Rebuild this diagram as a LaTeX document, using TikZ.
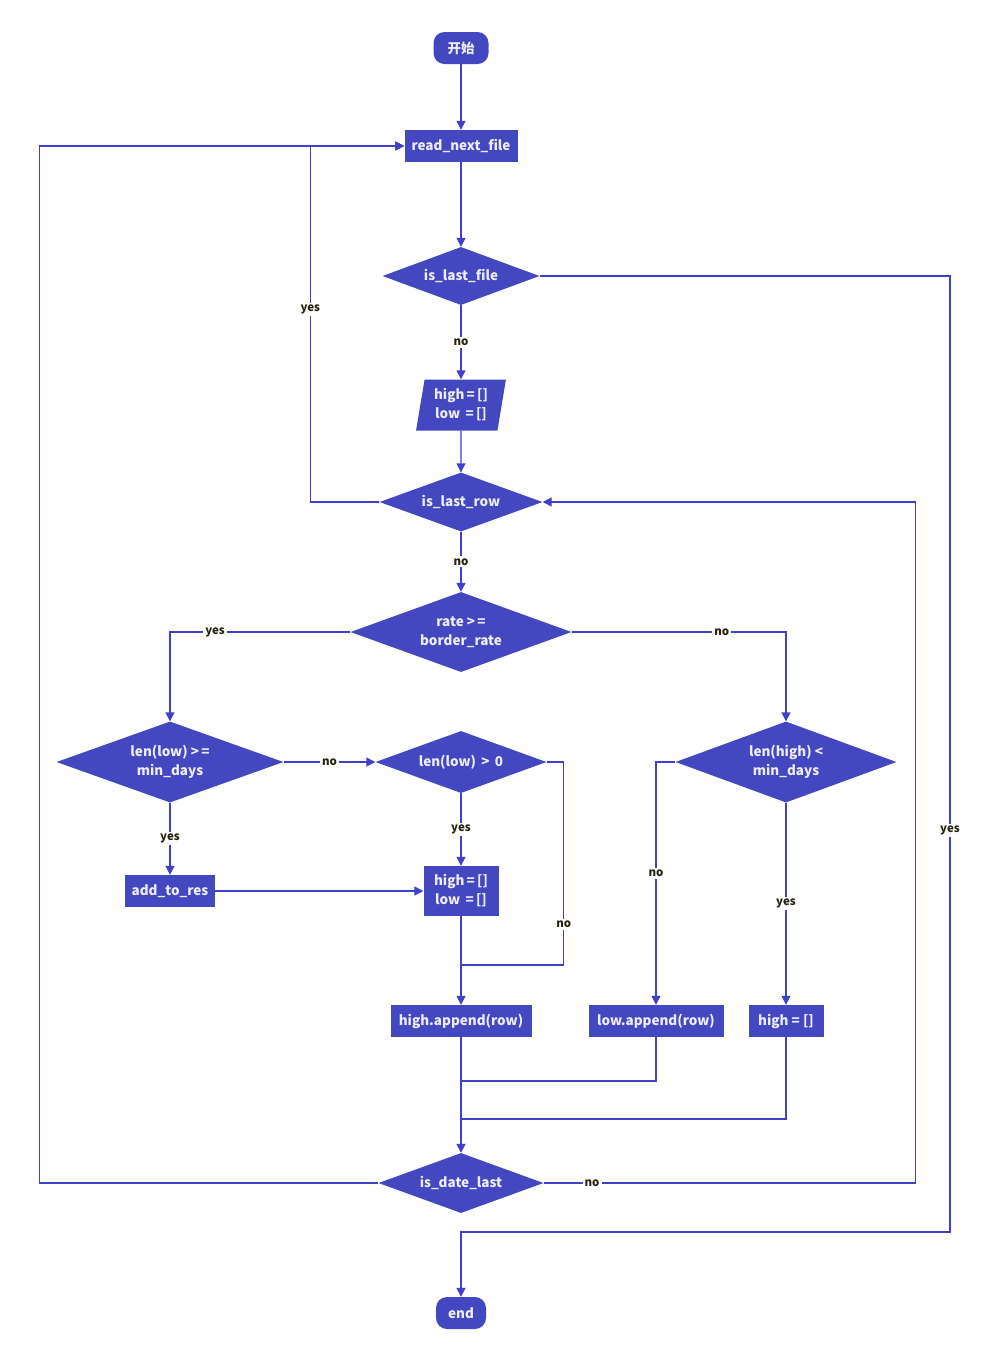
\documentclass[tikz,border=0pt]{standalone}
\usepackage{fontspec}
\setmainfont{Noto Sans CJK SC}
\usetikzlibrary{shapes.geometric, arrows.meta, positioning}
\definecolor{flowfill}{RGB}{68,72,192}
\definecolor{flowline}{RGB}{64,64,200}
\definecolor{flowtext}{RGB}{236,236,252}
\definecolor{lbltext}{RGB}{40,34,16}
\tikzset{
  base/.style={fill=flowfill, text=flowtext, font=\fontsize{13.5}{19}\selectfont\bfseries, inner sep=0pt, align=center},
  proc/.style={base, rectangle, minimum height=32pt},
  term/.style={base, rectangle, rounded corners=11pt, minimum height=32pt},
  decide/.style={base, diamond, aspect=2.7},
  io/.style={base, trapezium, trapezium left angle=79, trapezium right angle=101, trapezium stretches=true},
  arr/.style={flowline, line width=1.4pt, -{Triangle[length=9pt,width=9pt]}},
  conn/.style={flowline, line width=1.4pt},
  lbl/.style={fill=white, text=lbltext, font=\fontsize{11.5}{13}\selectfont\bfseries, inner sep=2pt},
}
\begin{document}
\begin{tikzpicture}[x=1pt, y=-1pt]
  \fill[white] (0,0) rectangle (1000,1361);
  \useasboundingbox (0,0) rectangle (1000,1361);
  \node[term, minimum width=55pt] (start) at (461,48) {开始};
  \node[proc, minimum width=113pt] (readf) at (461,146) {read\_next\_file};
  \node[decide, minimum width=157pt, minimum height=58pt] (lastfile) at (461,276) {is\_last\_file};
  \node[io, minimum width=90pt, minimum height=51pt] (init1) at (461,405) {high\,=\,[]\\low \,=\,[]};
  \node[decide, minimum width=163pt, minimum height=59pt] (lastrow) at (461,502) {is\_last\_row};
  \node[decide, minimum width=221pt, minimum height=80pt] (rate) at (461,632) {rate >\,=\\border\_rate};
  \node[decide, minimum width=227pt, minimum height=81pt] (lenlow) at (170,762) {len(low) >\,=\\min\_days};
  \node[decide, minimum width=171pt, minimum height=62pt] (lowpos) at (461,762) {len(low) \,>\, 0};
  \node[decide, minimum width=221pt, minimum height=81pt] (lenhigh) at (786,762) {len(high) <\\min\_days};
  \node[proc, minimum width=90pt] (addres) at (170,891) {add\_to\_res};
  \node[proc, minimum width=75pt, minimum height=50pt] (init2) at (461,891) {high\,=\,[]\\low \,=\,[]};
  \node[proc, minimum width=141pt] (highapp) at (461,1021) {high.append(row)};
  \node[proc, minimum width=135pt] (lowapp) at (656,1021) {low.append(row)};
  \node[proc, minimum width=75pt] (highclr) at (786,1021) {high = []};
  \node[decide, minimum width=165pt, minimum height=60pt] (datelast) at (461,1183) {is\_date\_last};
  \node[term, minimum width=50pt] (stop) at (461,1313) {end};
  \coordinate (j1) at (461,965);
  \coordinate (j2) at (461,1081);
  \coordinate (j3) at (461,1119);
  \coordinate (rbend) at (950,1232);

  \draw[arr] (start) -- (readf);
  \draw[arr] (readf) -- (lastfile);
  \draw[arr] (lastfile) -- node[lbl]{no} (init1);
  \draw[arr] (init1) -- (lastrow);
  \draw[arr] (lastrow) -- node[lbl]{no} (rate);
  \draw[arr] (lastrow.west) -- ++(-69,0) |- node[lbl,pos=0.27]{yes} (readf.west);
  \draw[arr] (lastfile.east) -| node[lbl,pos=0.79]{yes} (rbend) -| (stop);
  \draw[arr] (datelast.west) -- ++(-339,0) |- (readf.west);
  \draw[arr] (datelast.east) -- node[lbl,pos=0.13]{no} ++(372,0) |- (lastrow.east);
  \draw[arr] (rate.west) -| node[lbl,pos=0.375]{yes} (lenlow);
  \draw[arr] (rate.east) -| node[lbl,pos=0.35]{no} (lenhigh);
  \draw[arr] (lenlow) -- node[lbl]{no} (lowpos);
  \draw[arr] (lenlow) -- node[lbl]{yes} (addres);
  \draw[arr] (lowpos) -- node[lbl]{yes} (init2);
  \draw[arr] (addres) -- (init2);
  \draw[conn] (lowpos.east) -- ++(17,0) |- node[lbl,pos=0.4]{no} (j1);
  \draw[arr] (init2) -- (highapp);
  \draw[arr] (lenhigh.west) -| node[lbl,pos=0.73]{no} (lowapp);
  \draw[arr] (lenhigh) -- node[lbl]{yes} (highclr);
  \draw[conn] (lowapp) |- (j2);
  \draw[conn] (highclr) |- (j3);
  \draw[arr] (highapp) -- (datelast);
\end{tikzpicture}
\end{document}
